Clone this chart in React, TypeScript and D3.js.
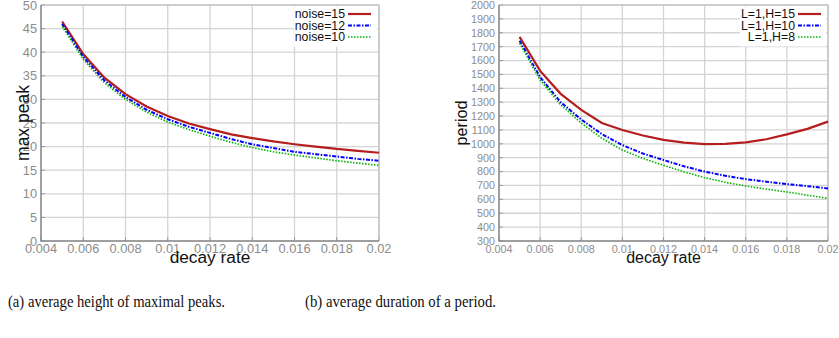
import React, { useEffect, useRef } from "react";
import * as d3 from "d3";

// decay rate values sampled in both experiments
const decayRates = [0.005, 0.006, 0.007, 0.008, 0.009, 0.01, 0.011, 0.012, 0.013, 0.014, 0.015, 0.016, 0.017, 0.018, 0.019, 0.02];

// (a) max peak
const noise15 = [46.5, 39.6, 34.6, 31.1, 28.5, 26.5, 24.9, 23.7, 22.6, 21.8, 21.1, 20.5, 20.0, 19.5, 19.1, 18.7];
const noise12 = [46.0, 39.0, 34.0, 30.5, 27.8, 25.8, 24.2, 22.9, 21.6, 20.5, 19.7, 18.9, 18.4, 17.9, 17.4, 17.0];
const noise10 = [45.5, 38.5, 33.5, 30.0, 27.3, 25.2, 23.6, 22.2, 20.9, 19.8, 18.9, 18.2, 17.6, 17.0, 16.5, 16.0];

// (b) period
const h15 = [1770, 1525, 1360, 1244, 1150, 1100, 1060, 1028, 1008, 998, 1000, 1011, 1033, 1068, 1108, 1160];
const h10 = [1743, 1480, 1300, 1175, 1070, 991, 930, 883, 838, 800, 770, 746, 727, 710, 695, 679];
const h8 = [1725, 1460, 1280, 1150, 1040, 955, 895, 845, 798, 756, 723, 696, 674, 653, 630, 607];

const xTicks = [0.004, 0.006, 0.008, 0.01, 0.012, 0.014, 0.016, 0.018, 0.02];
const peakTicks = d3.range(0, 51, 5);
const periodTicks = d3.range(300, 2001, 100);

const styles = [
  { color: "#b41e1e", width: 2.2, dash: null },
  { color: "#0000ff", width: 2, dash: "4,1.5,1.5,1.5" },
  { color: "#00b400", width: 1.6, dash: "1.5,1.5" },
];

const drawPanel = (svg, opts) => {
  const { x0, x1, y0, y1, yDomain, yTicks, series, labels, yLabel, tickSize, labelSize, xLabelSize, yLabelX, legendRight, legendBox } = opts;
  const g = svg.append("g");
  const x = d3.scaleLinear().domain([0.004, 0.02]).range([x0, x1]);
  const y = d3.scaleLinear().domain(yDomain).range([y1, y0]);

  // grid
  g.selectAll(".vg").data(xTicks).enter().append("line")
    .attr("x1", (d) => x(d)).attr("x2", (d) => x(d))
    .attr("y1", y0).attr("y2", y1)
    .attr("stroke", "#d4d4d4").attr("stroke-width", 1.3);
  g.selectAll(".hg").data(yTicks).enter().append("line")
    .attr("x1", x0).attr("x2", x1)
    .attr("y1", (d) => y(d)).attr("y2", (d) => y(d))
    .attr("stroke", "#d4d4d4").attr("stroke-width", 1.3);

  // inward tick marks
  g.selectAll(".yt").data(yTicks).enter().append("line")
    .attr("x1", x0).attr("x2", x0 + 4)
    .attr("y1", (d) => y(d)).attr("y2", (d) => y(d))
    .attr("stroke", "#999").attr("stroke-width", 1);
  g.selectAll(".xt").data(xTicks).enter().append("line")
    .attr("x1", (d) => x(d)).attr("x2", (d) => x(d))
    .attr("y1", y1).attr("y2", y1 - 4)
    .attr("stroke", "#999").attr("stroke-width", 1);

  // border
  g.append("path")
    .attr("d", `M${x0},${y0}H${x1}V${y1}`)
    .attr("fill", "none").attr("stroke", "#bdbdbd").attr("stroke-width", 1.2);
  g.append("path")
    .attr("d", `M${x0},${y0}V${y1}H${x1}`)
    .attr("fill", "none").attr("stroke", "#8a8a8a").attr("stroke-width", 1.5);

  // tick labels
  g.selectAll(".yl").data(yTicks).enter().append("text")
    .attr("x", x0 - 4).attr("y", (d) => y(d))
    .attr("dy", "0.36em")
    .attr("text-anchor", "end")
    .attr("font-size", tickSize)
    .attr("fill", "#8c8c8c")
    .text((d) => d);
  g.selectAll(".xl").data(xTicks).enter().append("text")
    .attr("x", (d) => x(d)).attr("y", y1 + 11.5)
    .attr("text-anchor", "middle")
    .attr("font-size", tickSize)
    .attr("fill", "#8c8c8c")
    .text((d) => d3.format("")(d));

  // axis titles
  g.append("text")
    .attr("x", (x0 + x1) / 2).attr("y", 263)
    .attr("text-anchor", "middle")
    .attr("font-size", xLabelSize)
    .attr("fill", "#111")
    .text("decay rate");
  g.append("text")
    .attr("transform", `translate(${yLabelX},${(y0 + y1) / 2}) rotate(-90)`)
    .attr("text-anchor", "middle")
    .attr("font-size", labelSize)
    .attr("fill", "#111")
    .text(yLabel);

  // series
  const line = d3.line().x((d) => x(d[0])).y((d) => y(d[1]));
  series.forEach((vals, i) => {
    const s = styles[i];
    g.append("path")
      .datum(decayRates.map((r, j) => [r, vals[j]]))
      .attr("d", line)
      .attr("fill", "none")
      .attr("stroke", s.color)
      .attr("stroke-width", s.width)
      .attr("stroke-dasharray", s.dash);
  });

  // legend
  g.append("rect")
    .attr("x", legendBox[0]).attr("y", y0 + 1.5)
    .attr("width", legendBox[1]).attr("height", 40)
    .attr("fill", "#fff");
  labels.forEach((lab, i) => {
    const s = styles[i];
    const ly = 18 + i * 11.5;
    g.append("text")
      .attr("x", legendRight).attr("y", ly)
      .attr("text-anchor", "end")
      .attr("font-size", 12.3)
      .attr("fill", "#111")
      .text(lab);
    g.append("line")
      .attr("x1", legendRight + 3).attr("x2", legendRight + 26)
      .attr("y1", ly - 4).attr("y2", ly - 4)
      .attr("stroke", s.color)
      .attr("stroke-width", s.width)
      .attr("stroke-dasharray", s.dash);
  });
};

const App = () => {
  const svgRef = useRef(null);

  useEffect(() => {
    const svg = d3.select(svgRef.current);
    svg.selectAll("*").remove();

    drawPanel(svg, {
      x0: 41, x1: 379, y0: 5, y1: 241,
      yDomain: [0, 50], yTicks: peakTicks,
      series: [noise15, noise12, noise10],
      labels: ["noise=15", "noise=12", "noise=10"],
      yLabel: "max peak", tickSize: 12.8, labelSize: 17.5, xLabelSize: 17.3,
      yLabelX: 29, legendRight: 345, legendBox: [294, 83],
    });
    drawPanel(svg, {
      x0: 499, x1: 828, y0: 5, y1: 241,
      yDomain: [300, 2000], yTicks: periodTicks,
      series: [h15, h10, h8],
      labels: ["L=1,H=15", "L=1,H=10", "L=1,H=8"],
      yLabel: "period", tickSize: 10.8, labelSize: 16.2, xLabelSize: 16,
      yLabelX: 467, legendRight: 795, legendBox: [740, 86],
    });

    const cap = svg.append("g").attr("font-family", "'Liberation Serif', serif").attr("fill", "#111");
    cap.append("text").attr("x", 8).attr("y", 307).attr("font-size", 16)
      .attr("textLength", 217).attr("lengthAdjust", "spacingAndGlyphs")
      .text("(a) average height of maximal peaks.");
    cap.append("text").attr("x", 305).attr("y", 307).attr("font-size", 16)
      .attr("textLength", 191).attr("lengthAdjust", "spacingAndGlyphs")
      .text("(b) average duration of a period.");
  }, []);

  return (
    <svg
      ref={svgRef}
      width={839}
      height={338}
      style={{ position: "absolute", left: 0, top: 0, background: "#fff", fontFamily: "'Liberation Sans', Arial, sans-serif" }}
    ></svg>
  );
};

export default App;
